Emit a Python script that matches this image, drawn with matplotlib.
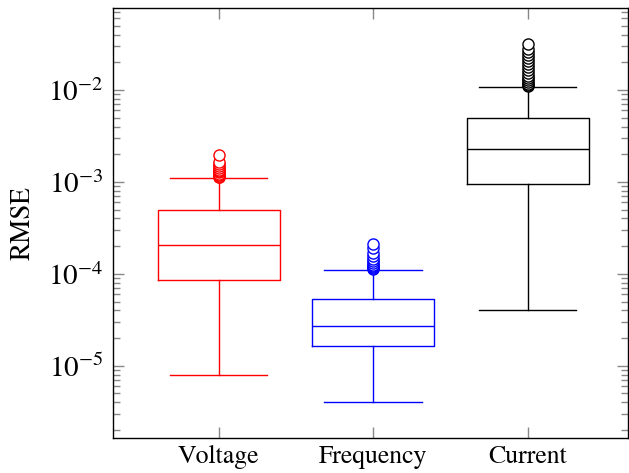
import matplotlib
matplotlib.use('Agg')
import matplotlib.pyplot as plt
from matplotlib.ticker import LogLocator, NullFormatter

plt.rcParams['font.family'] = ['STIXGeneral', 'DejaVu Serif']
plt.rcParams['mathtext.fontset'] = 'cm'

# Box statistics (RMSE, log scale)
labels = ['Voltage', 'Frequency', 'Current']
colors = ['red', 'blue', 'black']
medians = [2.07e-4, 2.7e-5, 2.3e-3]
q1s = [8.6e-5, 1.65e-5, 9.5e-4]
q3s = [5.0e-4, 5.3e-5, 5.0e-3]
whis_lo = [8.0e-6, 4.0e-6, 4.05e-5]
whis_hi = [1.1e-3, 1.1e-4, 1.08e-2]

# Outliers above the upper whisker
fliers_voltage = [1.12e-3, 1.14e-3, 1.17e-3, 1.2e-3, 1.23e-3, 1.27e-3, 1.31e-3,
                  1.36e-3, 1.42e-3, 1.5e-3, 1.58e-3, 1.65e-3, 1.96e-3]
fliers_frequency = [1.12e-4, 1.15e-4, 1.18e-4, 1.22e-4, 1.26e-4, 1.31e-4,
                    1.37e-4, 1.45e-4, 1.55e-4, 1.7e-4, 1.9e-4, 2.1e-4]
fliers_current = [1.1e-2, 1.13e-2, 1.17e-2, 1.22e-2, 1.28e-2, 1.35e-2, 1.43e-2,
                  1.52e-2, 1.63e-2, 1.76e-2, 1.9e-2, 2.05e-2, 2.2e-2, 2.38e-2,
                  2.58e-2, 2.8e-2, 3.15e-2]
fliers = [fliers_voltage, fliers_frequency, fliers_current]

fig = plt.figure(figsize=(6.29, 4.73), dpi=100)
ax = fig.add_axes([0.1797, 0.074, 0.8187, 0.9085])

for i in range(3):
    stats = [{'med': medians[i], 'q1': q1s[i], 'q3': q3s[i],
              'whislo': whis_lo[i], 'whishi': whis_hi[i],
              'fliers': fliers[i], 'label': labels[i]}]
    c = colors[i]
    ax.bxp(stats, positions=[i + 1], widths=0.79, showfliers=True,
           boxprops=dict(color=c, linewidth=1.0),
           medianprops=dict(color=c, linewidth=1.0),
           whiskerprops=dict(color=c, linewidth=1.0),
           capprops=dict(color=c, linewidth=1.0),
           capwidths=0.63,
           flierprops=dict(marker='o', markerfacecolor='white',
                           markeredgecolor=c, markersize=8, markeredgewidth=1.0))

ax.set_yscale('log')
ax.set_ylim(1.64e-6, 0.0773)
ax.set_xlim(0.317, 3.65)
ax.set_xticks([1, 2, 3])
ax.set_xticklabels(labels)
ax.yaxis.set_major_locator(LogLocator(base=10, numticks=10))
ax.yaxis.set_minor_locator(LogLocator(base=10, subs=range(2, 10), numticks=20))
ax.yaxis.set_minor_formatter(NullFormatter())

ax.tick_params(axis='both', which='both', direction='in', color='#888888',
               top=True, right=True)
ax.tick_params(axis='x', labelsize=18.5)
ax.tick_params(axis='y', labelsize=21)
ax.tick_params(axis='both', which='major', length=8, width=1.0)
ax.tick_params(axis='y', which='minor', length=5, width=1.0)
ax.tick_params(axis='y', which='major', pad=7)
ax.tick_params(axis='x', which='major', pad=5)
ax.set_ylabel('RMSE', fontsize=19.5, labelpad=9)

for s in ax.spines.values():
    s.set_linewidth(1.0)

fig.savefig('out.png', dpi=100)
